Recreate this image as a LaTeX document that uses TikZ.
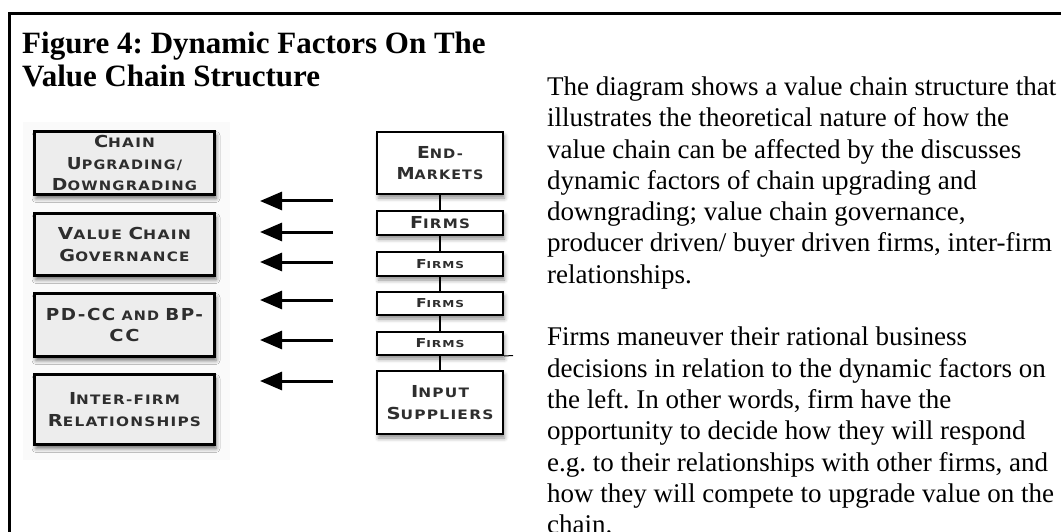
\documentclass[tikz,border=0pt]{standalone}
\usepackage{graphicx}
\usepackage{fontspec}
\setmainfont{Liberation Serif}
\newfontfamily\boxfont[LetterSpace=8]{DejaVu Sans}
\usetikzlibrary{arrows.meta,shadows.blur}
\frenchspacing

\definecolor{boxtext}{HTML}{2E2E2E}
\definecolor{factorfill}{HTML}{EDEDED}
\definecolor{panelfill}{HTML}{FAFAFA}

% fake small caps: large initial, smaller remaining capitals
\newcommand\capbig[1]{{\fontsize{16.5}{21.5}\selectfont #1}}
\newcommand\smc[2]{\capbig{#1}#2}
\newcommand\capmid[1]{{\fontsize{12.3}{16}\selectfont #1}}
\newcommand\smallsmc[2]{\capmid{#1}{\fontsize{9.6}{16}\selectfont #2}}
% one label line set to a given width, height kept
\newcommand\fitw[2]{\resizebox{#1pt}{\height}{#2}}

\tikzset{
  factor/.style={draw=black, line width=3pt, fill=factorfill,
    minimum width=180pt, inner sep=0pt, align=center, text=boxtext,
    font=\boxfont\bfseries\fontsize{13}{21.5}\selectfont,
    blur shadow={shadow xshift=1.5pt, shadow yshift=-4pt,
      shadow blur radius=4pt, shadow opacity=55}},
  link/.style={draw=black, line width=2pt, fill=white,
    minimum width=126pt, inner sep=0pt, align=center, text=boxtext,
    font=\boxfont\bfseries\fontsize{13}{21.5}\selectfont,
    blur shadow={shadow xshift=1.5pt, shadow yshift=-4pt,
      shadow blur radius=4pt, shadow opacity=45}},
  pull/.style={line width=3pt, -{Triangle[length=22pt,width=18pt]}},
  joint/.style={line width=1.2pt},
  frame/.style={line width=3pt},
}

\begin{document}
\begin{tikzpicture}[x=1pt,y=-1pt]
  \useasboundingbox (0,0) rectangle (1061,532);
  \clip (0,0) rectangle (1061,532);

  % outer frame (top and left rules)
  \coordinate (fr-top) at (1070,14);
  \coordinate (fr-corner) at (9,14);
  \coordinate (fr-bottom) at (9,540);
  \draw[frame] (fr-top) -- (fr-corner) -- (fr-bottom);

  % heading
  \node[anchor=north west, inner sep=0pt, align=left,
        font=\bfseries\fontsize{31}{32.5}\selectfont] (title) at (22,32)
    {Figure 4: Dynamic Factors On The\\Value Chain Structure};

  % light panel behind the factor boxes
  \fill[panelfill] (23,122) rectangle (230,460);

  % dynamic factors
  \node[factor, minimum height=63pt] (f1) at (124.5,163)
    {\fitw{61}{\smc{C}{HAIN}}\\
     \fitw{115}{\smc{U}{PGRADING/}}\\
     \fitw{145}{\smc{D}{OWNGRADING}}};
  \node[factor, minimum height=62pt] (f2) at (124.5,244.5)
    {\fitw{133}{\smc{V}{ALUE} \smc{C}{HAIN}}\\
     \fitw{130}{\smc{G}{OVERNANCE}}};
  \node[factor, minimum height=63pt] (f3) at (124.5,325)
    {\fitw{157}{\capbig{PD-CC} AND \capbig{BP-}}\\
     \fitw{30}{\capbig{CC}}};
  \node[factor, minimum height=70pt] (f4) at (124.5,409.5)
    {\fitw{111}{\smc{I}{NTER-FIRM}}\\
     \fitw{153}{\smc{R}{ELATIONSHIPS}}};

  % value chain column
  \node[link, minimum height=62pt] (end) at (440,163)
    {\fitw{46}{\smc{E}{ND-}}\\\fitw{87}{\smc{M}{ARKETS}}};
  \node[link, minimum height=24pt] (firm1) at (440,223)
    {\fitw{60}{\smc{F}{IRMS}}};
  \node[link, minimum height=24pt] (firm2) at (440,264)
    {\fitw{48}{\smallsmc{F}{IRMS}}};
  \node[link, minimum height=23pt] (firm3) at (440,303.5)
    {\fitw{48}{\smallsmc{F}{IRMS}}};
  \node[link, minimum height=23pt] (firm4) at (440,343.5)
    {\fitw{49}{\smallsmc{F}{IRMS}}};
  \node[link, minimum height=63pt] (input) at (440,402.5)
    {\fitw{58}{\smc{I}{NPUT}}\\\fitw{107}{\smc{S}{UPPLIERS}}};

  \draw[joint] (end) -- (firm1);
  \draw[joint] (firm1) -- (firm2);
  \draw[joint] (firm2) -- (firm3);
  \draw[joint] (firm3) -- (firm4);
  \draw[joint] (firm4) -- (input);
  \coordinate (spur) at (513,355.5);
  \draw[line width=1pt] (firm4.south east) -- (spur);

  % influence arrows
  \foreach \i/\y in {1/201,2/232,3/262,4/300,5/340,6/381}{
    \coordinate (tail\i) at (333,\y);
    \coordinate (head\i) at (260,\y);
    \draw[pull] (tail\i) -- (head\i);
  }

  % explanatory text
  \node[anchor=north west, inner sep=0pt, align=left,
        font=\fontsize{27}{31.3}\selectfont] (notes) at (547,76.5)
    {The diagram shows a value chain structure that\\
     illustrates the theoretical nature of how the\\
     value chain can be affected by the discusses\\
     dynamic factors of chain upgrading and\\
     downgrading; value chain governance,\\
     producer driven/ buyer driven firms, inter-firm\\
     relationships.\\[31.3pt]
     Firms maneuver their rational business\\
     decisions in relation to the dynamic factors on\\
     the left. In other words, firm have the\\
     opportunity to decide how they will respond\\
     e.g. to their relationships with other firms, and\\
     how they will compete to upgrade value on the\\
     chain.};
\end{tikzpicture}
\end{document}
